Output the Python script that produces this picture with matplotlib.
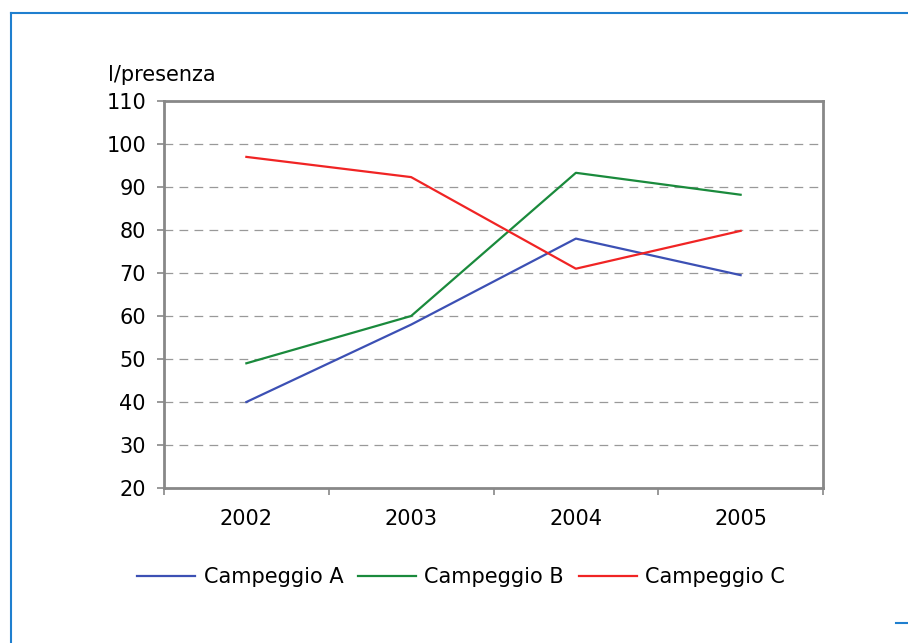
import numpy as np
import matplotlib
matplotlib.use("Agg")
from matplotlib import pyplot as plt
from matplotlib.lines import Line2D

# dati
anni = ["2002", "2003", "2004", "2005"]
campeggio_a = [40, 58, 78, 69.5]
campeggio_b = [49, 60, 93.3, 88.2]
campeggio_c = [97, 92.3, 71, 79.8]
serie = ["Campeggio A", "Campeggio B", "Campeggio C"]
colori = ["#3c50b4", "#1a8a3c", "#f02424"]

plt.rcParams['font.family'] = ['DejaVu Sans']

fig = plt.figure(figsize=(9.08, 6.43), dpi=100)
W, H = 908, 643
ax = fig.add_axes([164 / W, 1 - 488 / H, (823 - 164) / W, (488 - 101) / H])

x = np.arange(len(anni))
for valori, nome, col in zip([campeggio_a, campeggio_b, campeggio_c], serie, colori):
    ax.plot(x, valori, color=col, lw=1.6, label=nome)

ax.set_xlim(-0.5, len(anni) - 0.5)
ax.set_ylim(20, 110)
ax.set_yticks(np.arange(20, 111, 10))
ax.set_xticks(x)
ax.set_xticklabels(anni)
ax.set_xticks(np.arange(-0.5, len(anni)), minor=True)
ax.tick_params(axis='x', which='major', length=0, pad=15, labelsize=15)
ax.tick_params(axis='x', which='minor', length=5, color="#888888", width=1.2)
ax.tick_params(axis='y', length=5, color="#888888", width=1.2, labelsize=15, pad=8)

for y in range(30, 110, 10):
    ax.axhline(y, color="#999999", lw=0.9, ls=(0, (7, 5)), zorder=0)

for s in ax.spines.values():
    s.set_color("#888888")
    s.set_linewidth(2)

fig.text(108 / W, 1 - 75 / H, "l/presenza", fontsize=15, va="center", ha="left")

handles = [Line2D([], [], color=c, lw=1.6) for c in colori]
fig.legend(handles, serie, loc="center", bbox_to_anchor=(461 / W, 1 - 577 / H),
           ncol=3, frameon=False, fontsize=15, handlelength=2.8, handletextpad=0.4,
           columnspacing=0.7)

# cornice blu
bordo = "#1f7fcf"
fig.add_artist(Line2D([11 / W, 11 / W], [0, 1 - 13 / H], color=bordo, lw=1.5))
fig.add_artist(Line2D([11 / W, 1], [1 - 13 / H, 1 - 13 / H], color=bordo, lw=1.5))
fig.add_artist(Line2D([896 / W, 1], [1 - 623 / H, 1 - 623 / H], color=bordo, lw=1.5))

fig.savefig("out.png", dpi=100)
